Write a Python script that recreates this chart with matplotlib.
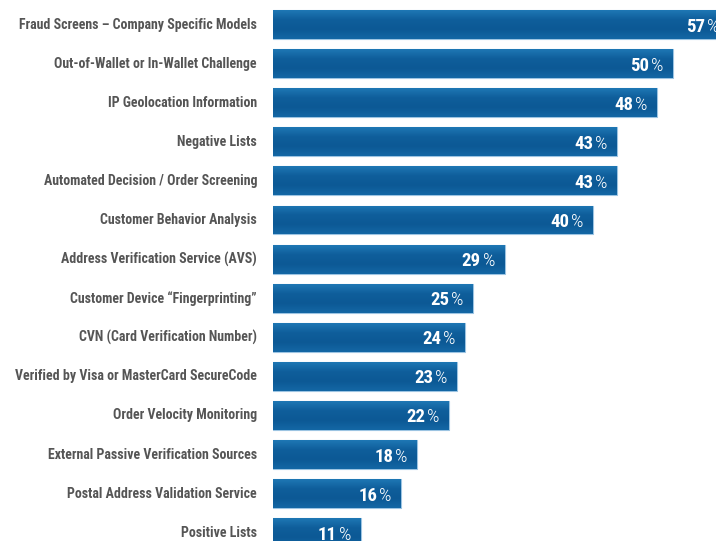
from matplotlib import pyplot as plt
from matplotlib.colors import LinearSegmentedColormap
import numpy as np

categories = ['Fraud Screens \u2013 Company Specific Models',
              'Out-of-Wallet or In-Wallet Challenge',
              'IP Geolocation Information',
              'Negative Lists',
              'Automated Decision / Order Screening',
              'Customer Behavior Analysis',
              'Address Verification Service (AVS)',
              'Customer Device \u201cFingerprinting\u201d',
              'CVN (Card Verification Number)',
              'Verified by Visa or MasterCard SecureCode',
              'Order Velocity Monitoring',
              'External Passive Verification Sources',
              'Postal Address Validation Service',
              'Positive Lists']
values = [57, 50, 48, 43, 43, 40, 29, 25, 24, 23, 22, 18, 16, 11]

plt.rcParams['font.family'] = ['Roboto Condensed', 'Liberation Sans Narrow', 'DejaVu Sans']

fig = plt.figure(figsize=(7.16, 5.41), dpi=100)
ax = fig.add_axes([273 / 716, 0, 1 - 273 / 716, 1])

pos = np.arange(len(values))
bars = ax.barh(pos, values, height=0.74, color='#15629e',
               edgecolor='#9cc4e2', linewidth=0.8)

# vertical gradient inside each bar
cmap = LinearSegmentedColormap.from_list('g', ['#1e77b4', '#0f5e9b', '#0c5995', '#1467a5'])
grad = np.linspace(0, 1, 64).reshape(-1, 1)
for b in bars:
    x0, y0 = b.get_x(), b.get_y()
    w, h = b.get_width(), b.get_height()
    im = ax.imshow(grad, cmap=cmap, extent=(x0, x0 + w, y0 + h, y0),
                   aspect='auto', zorder=2)
    im.set_clip_path(b)

ax.set_xlim(0, (716 - 273) / 8)
ax.set_ylim(13.21, -0.627)
ax.axis('off')

for i, v in enumerate(values):
    ax.text(-2.0, i, categories[i], ha='right', va='center', fontsize=10,
            color='#555555', fontweight='bold', clip_on=False)
    ax.annotate('%', (v, i), xytext=(-10, -7), textcoords='offset pixels',
                ha='right', va='baseline', fontsize=14, color='white', zorder=3,
                fontweight='light', annotation_clip=False)
    ax.annotate(str(v), (v, i), xytext=(-24, -7), textcoords='offset pixels',
                ha='right', va='baseline', fontsize=13.5, color='white',
                fontweight='bold', zorder=3, annotation_clip=False)

fig.savefig('out.png', dpi=100)
